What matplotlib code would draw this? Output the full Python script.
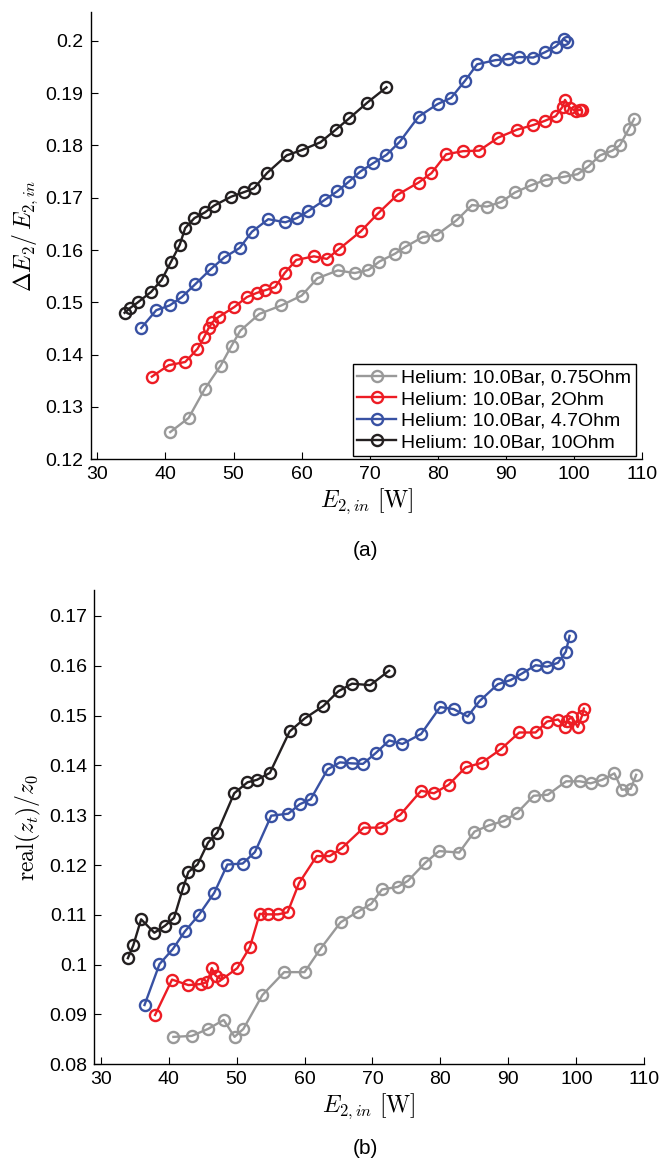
import matplotlib
matplotlib.use("Agg")
import matplotlib.pyplot as plt

plt.rcParams['font.family'] = ['Liberation Sans', 'DejaVu Sans']
plt.rcParams['mathtext.fontset'] = 'cm'

labels = ['Helium: 10.0Bar, 0.75Ohm', 'Helium: 10.0Bar, 2Ohm',
          'Helium: 10.0Bar, 4.7Ohm', 'Helium: 10.0Bar, 10Ohm']
colors = ['#999999', '#ed1c24', '#3851a3', '#231f20']

# E_2,in [W] per series
x_075 = [40.7, 43.4, 45.8, 48.1, 49.7, 51.0, 53.8, 57.0, 60.0, 62.3, 65.3, 67.8, 69.8,
         71.4, 73.7, 75.2, 77.8, 79.8, 82.75, 85.0, 87.2, 89.3, 91.3, 93.7, 95.8, 98.5,
         100.5, 102.1, 103.8, 105.6, 106.7, 108.0, 108.8]
x_2 = [38.0, 40.5, 42.9, 44.7, 45.7, 46.35, 46.9, 47.8, 50.1, 51.95, 53.4, 54.6, 56.1,
       57.5, 59.2, 61.8, 63.7, 65.5, 68.7, 71.2, 74.1, 77.15, 79.05, 81.2, 83.7, 86.05,
       88.85, 91.6, 94.0, 95.7, 97.3, 98.3, 98.65, 99.35, 100.2, 100.85, 101.1]
x_47 = [36.45, 38.65, 40.6, 42.4, 44.4, 46.7, 48.65, 50.9, 52.7, 55.1, 57.6, 59.3, 60.9,
        63.4, 65.2, 66.95, 68.6, 70.5, 72.45, 74.4, 77.15, 79.95, 81.95, 84.0, 85.75,
        88.45, 90.3, 91.95, 94.0, 95.7, 97.3, 98.45, 99.0]
x_10 = [34.0, 34.8, 35.95, 37.9, 39.45, 40.8, 42.1, 42.9, 44.25, 45.8, 47.15, 49.65,
        51.6, 53.0, 54.9, 57.8, 60.0, 62.75, 65.0, 67.0, 69.65, 72.45]

# (a) dE2/E2,in
a_075 = [0.1252, 0.1279, 0.1335, 0.1379, 0.1417, 0.1446, 0.1478, 0.1494, 0.1513, 0.1546,
         0.1561, 0.1556, 0.1562, 0.1578, 0.1593, 0.1606, 0.1625, 0.1629, 0.1657, 0.1686,
         0.1683, 0.1692, 0.1710, 0.1724, 0.1734, 0.1740, 0.1745, 0.1760, 0.1781, 0.1790,
         0.1800, 0.1831, 0.1851]
a_2 = [0.1358, 0.1380, 0.1386, 0.1411, 0.1434, 0.1451, 0.1462, 0.1472, 0.1491, 0.1510,
       0.1518, 0.1523, 0.1529, 0.1556, 0.1581, 0.1588, 0.1583, 0.1602, 0.1636, 0.1670,
       0.1706, 0.1729, 0.1747, 0.1783, 0.1789, 0.1790, 0.1815, 0.1830, 0.1839, 0.1847,
       0.1856, 0.1874, 0.1887, 0.1872, 0.1866, 0.1868, 0.1867]
a_47 = [0.1451, 0.1485, 0.1494, 0.1510, 0.1535, 0.1564, 0.1586, 0.1604, 0.1635, 0.1659,
        0.1653, 0.1661, 0.1674, 0.1696, 0.1712, 0.1731, 0.1750, 0.1766, 0.1782, 0.1807,
        0.1855, 0.1879, 0.1891, 0.1924, 0.1955, 0.1963, 0.1965, 0.1969, 0.1968, 0.1978,
        0.1989, 0.2003, 0.1998]
a_10 = [0.1480, 0.1489, 0.1500, 0.1520, 0.1543, 0.1577, 0.1610, 0.1642, 0.1661, 0.1672,
        0.1685, 0.1702, 0.1711, 0.1718, 0.1747, 0.1781, 0.1791, 0.1806, 0.1830, 0.1852,
        0.1882, 0.1911]

# (b) real(z_t)/z_0
b_075 = [0.0855, 0.0857, 0.0871, 0.0889, 0.0855, 0.0871, 0.0939, 0.0985, 0.0985, 0.1031,
         0.1085, 0.1106, 0.1122, 0.1151, 0.1156, 0.1168, 0.1205, 0.1228, 0.1225, 0.1267,
         0.1280, 0.1288, 0.1305, 0.1339, 0.1341, 0.1368, 0.1368, 0.1364, 0.1371, 0.1384,
         0.1351, 0.1353, 0.1381]
b_2 = [0.0899, 0.0970, 0.0959, 0.0961, 0.0965, 0.0993, 0.0978, 0.0970, 0.0993, 0.1035,
       0.1102, 0.1101, 0.1101, 0.1105, 0.1164, 0.1218, 0.1218, 0.1234, 0.1275, 0.1275,
       0.1301, 0.1349, 0.1344, 0.1361, 0.1396, 0.1405, 0.1432, 0.1466, 0.1466, 0.1488,
       0.1492, 0.1478, 0.1490, 0.1497, 0.1477, 0.1500, 0.1514]
b_47 = [0.0919, 0.1001, 0.1031, 0.1067, 0.1099, 0.1144, 0.1201, 0.1203, 0.1226, 0.1299,
        0.1303, 0.1322, 0.1332, 0.1392, 0.1406, 0.1404, 0.1403, 0.1425, 0.1450, 0.1443,
        0.1463, 0.1517, 0.1513, 0.1498, 0.1529, 0.1563, 0.1571, 0.1584, 0.1601, 0.1598,
        0.1606, 0.1628, 0.1660]
b_10 = [0.1013, 0.1039, 0.1091, 0.1064, 0.1078, 0.1094, 0.1153, 0.1186, 0.1201, 0.1245,
        0.1265, 0.1344, 0.1366, 0.1371, 0.1385, 0.1468, 0.1494, 0.1519, 0.1549, 0.1564,
        0.1561, 0.1590]

xs = [x_075, x_2, x_47, x_10]
ya = [a_075, a_2, a_47, a_10]
yb = [b_075, b_2, b_47, b_10]

fig = plt.figure(figsize=(6.62, 11.61), dpi=100)
W, H = 662.0, 1161.0
ax1 = fig.add_axes([90.5 / W, 1 - 459.3 / H, (642.3 - 90.5) / W, (459.3 - 12) / H])
ax2 = fig.add_axes([93.9 / W, 1 - 1064.3 / H, (644.3 - 93.9) / W, (1064.3 - 590) / H])

for ax, ys in [(ax1, ya), (ax2, yb)]:
    for x, y, c, lab in zip(xs, ys, colors, labels):
        ax.plot(x, y, '-o', color=c, lw=1.7, ms=8, mfc='none', mew=1.7, label=lab)
    ax.set_xlim(29, 110)
    ax.set_xticks(range(30, 111, 10))
    for s in ['top', 'right']:
        ax.spines[s].set_visible(False)
    ax.spines['left'].set_linewidth(1.0)
    ax.spines['bottom'].set_linewidth(1.0)
    ax.tick_params(direction='in', length=5, width=0.8, labelsize=14, pad=5)
    ax.set_xlabel(r'$E_{2,in}\ [\mathrm{W}]$', fontsize=17, labelpad=2)

ax1.set_ylim(0.12, 0.2055)
ax1.set_yticks([0.12, 0.13, 0.14, 0.15, 0.16, 0.17, 0.18, 0.19, 0.2])
ax1.set_yticklabels(['0.12', '0.13', '0.14', '0.15', '0.16', '0.17', '0.18', '0.19', '0.2'])
ax1.set_ylabel(r'$\Delta E_2/\,E_{2,in}$', fontsize=17, labelpad=4)

ax2.set_ylim(0.08, 0.1752)
ax2.set_yticks([0.08, 0.09, 0.1, 0.11, 0.12, 0.13, 0.14, 0.15, 0.16, 0.17])
ax2.set_yticklabels(['0.08', '0.09', '0.1', '0.11', '0.12', '0.13', '0.14', '0.15', '0.16', '0.17'])
ax2.set_ylabel(r'$\mathrm{real}(z_t)/z_0$', fontsize=17, labelpad=4)

leg = ax1.legend(loc='lower right', bbox_to_anchor=(0.9886, 0.0074), borderaxespad=0,
                 fontsize=14, fancybox=False, edgecolor='black', framealpha=1,
                 handlelength=2.0, handletextpad=0.25, labelspacing=0.2, borderpad=0.25)
leg.get_frame().set_linewidth(1.0)

fig.text(365 / W, 1 - 550 / H, '(a)', ha='center', va='center', fontsize=15)
fig.text(365 / W, 1 - 1148 / H, '(b)', ha='center', va='center', fontsize=15)

fig.savefig('out.png', dpi=100)
